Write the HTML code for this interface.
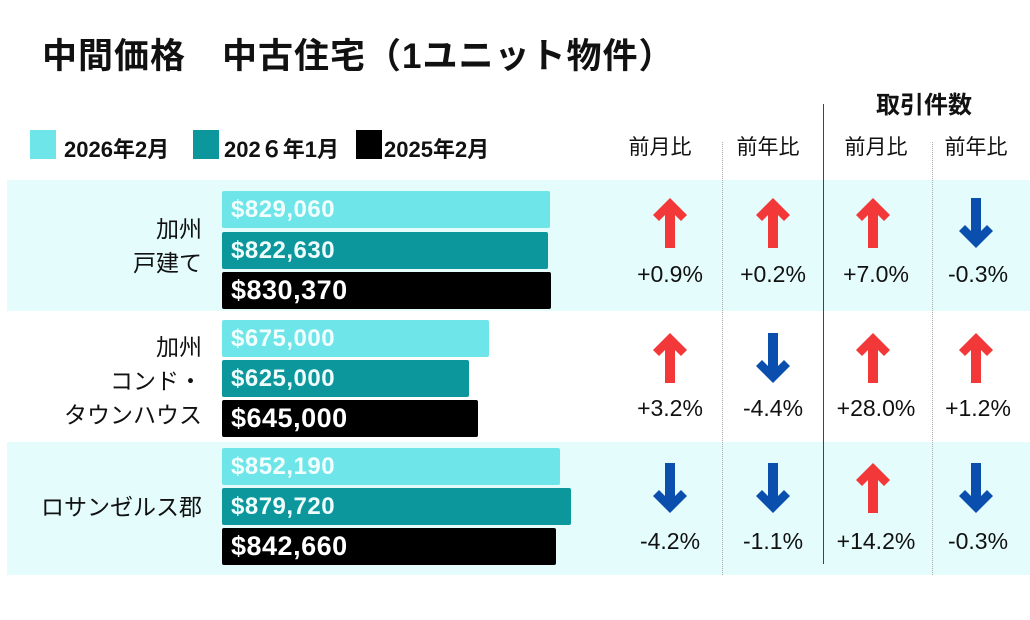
<!DOCTYPE html>
<html><head><meta charset="utf-8"><style>
*{margin:0;padding:0;box-sizing:border-box}
body{width:1030px;height:620px;background:#fff;position:relative;overflow:hidden;font-family:"Liberation Sans","Noto Sans CJK JP",sans-serif;color:#111}
.a{position:absolute}
.band{position:absolute;left:7px;width:1023px;background:#e4fcfc}
.bar{position:absolute;left:222px;height:37px;border-radius:2px;color:#fff;font-size:24px;font-weight:bold;line-height:37px;padding-left:9px;letter-spacing:0.5px}
.l{background:#6ee5e8;color:#f2ffff}.t{background:#0b979c;color:#eefcfc}.k{background:#000;font-size:27px}
.lab{position:absolute;right:828px;text-align:right;font-size:23px;line-height:34px}
.h{position:absolute;font-size:21px;top:131px;width:100px;text-align:center}
.p{position:absolute;font-size:23px;width:100px;text-align:center}
.leg{position:absolute;top:132px;font-size:22px;font-weight:bold}
.sw{position:absolute;top:130px;width:26px;height:29px}
</style></head><body>
<div class="a" style="left:42px;top:28px;font-size:35px;font-weight:bold;letter-spacing:1px">中間価格　中古住宅（1ユニット物件）</div>
<div class="a" style="left:876px;top:85px;font-size:24px;font-weight:bold">取引件数</div>
<div class="sw" style="left:30px;background:#6ee5e8"></div><div class="leg" style="left:64px">2026年2月</div>
<div class="sw" style="left:193px;background:#0b979c"></div><div class="leg" style="left:224px">202６年1月</div>
<div class="sw" style="left:356px;background:#000"></div><div class="leg" style="left:384px">2025年2月</div>
<div class="h" style="left:610px">前月比</div><div class="h" style="left:718px">前年比</div>
<div class="h" style="left:826px">前月比</div><div class="h" style="left:926px">前年比</div>
<div class="band" style="top:180px;height:131px"></div>
<div class="band" style="top:442px;height:133px"></div>
<div class="a" style="left:722px;top:142px;height:433px;border-left:1px dotted #aaa"></div>
<div class="a" style="left:932px;top:142px;height:433px;border-left:1px dotted #aaa"></div>
<div class="a" style="left:823px;top:104px;height:460px;border-left:1.5px solid #444"></div>
<div class="bar l" style="top:191px;width:328px">$829,060</div>
<div class="bar t" style="top:232px;width:326px">$822,630</div>
<div class="bar k" style="top:272px;width:329px">$830,370</div>
<div class="bar l" style="top:320px;width:267px">$675,000</div>
<div class="bar t" style="top:360px;width:247px">$625,000</div>
<div class="bar k" style="top:400px;width:256px">$645,000</div>
<div class="bar l" style="top:448px;width:338px">$852,190</div>
<div class="bar t" style="top:488px;width:349px">$879,720</div>
<div class="bar k" style="top:528px;width:334px">$842,660</div>
<div class="lab" style="top:212px">加州<br>戸建て</div>
<div class="lab" style="top:330px">加州<br>コンド・<br>タウンハウス</div>
<div class="lab" style="top:490px">ロサンゼルス郡</div>
<svg class="a" style="left:0;top:0" width="1030" height="620">
<defs>
<g id="up"><path d="M0,-25 L17,-8 L11,-2 L5,-8 L5,25 L-5,25 L-5,-8 L-11,-2 L-17,-8Z" fill="#f23838"/></g>
<g id="dn"><path d="M0,25 L17,8 L11,2 L5,8 L5,-25 L-5,-25 L-5,8 L-11,2 L-17,8Z" fill="#0b4fae"/></g>
</defs>
<use href="#up" x="670" y="223"/><use href="#up" x="773" y="223"/><use href="#up" x="873" y="223"/><use href="#dn" x="976" y="223"/>
<use href="#up" x="670" y="358"/><use href="#dn" x="773" y="358"/><use href="#up" x="873" y="358"/><use href="#up" x="976" y="358"/>
<use href="#dn" x="670" y="488"/><use href="#dn" x="773" y="488"/><use href="#up" x="873" y="488"/><use href="#dn" x="976" y="488"/>
</svg>
<div class="p" style="left:620px;top:261px">+0.9%</div><div class="p" style="left:723px;top:261px">+0.2%</div><div class="p" style="left:826px;top:261px">+7.0%</div><div class="p" style="left:928px;top:261px">-0.3%</div>
<div class="p" style="left:620px;top:395px">+3.2%</div><div class="p" style="left:723px;top:395px">-4.4%</div><div class="p" style="left:826px;top:395px">+28.0%</div><div class="p" style="left:928px;top:395px">+1.2%</div>
<div class="p" style="left:620px;top:528px">-4.2%</div><div class="p" style="left:723px;top:528px">-1.1%</div><div class="p" style="left:826px;top:528px">+14.2%</div><div class="p" style="left:928px;top:528px">-0.3%</div>
</body></html>
